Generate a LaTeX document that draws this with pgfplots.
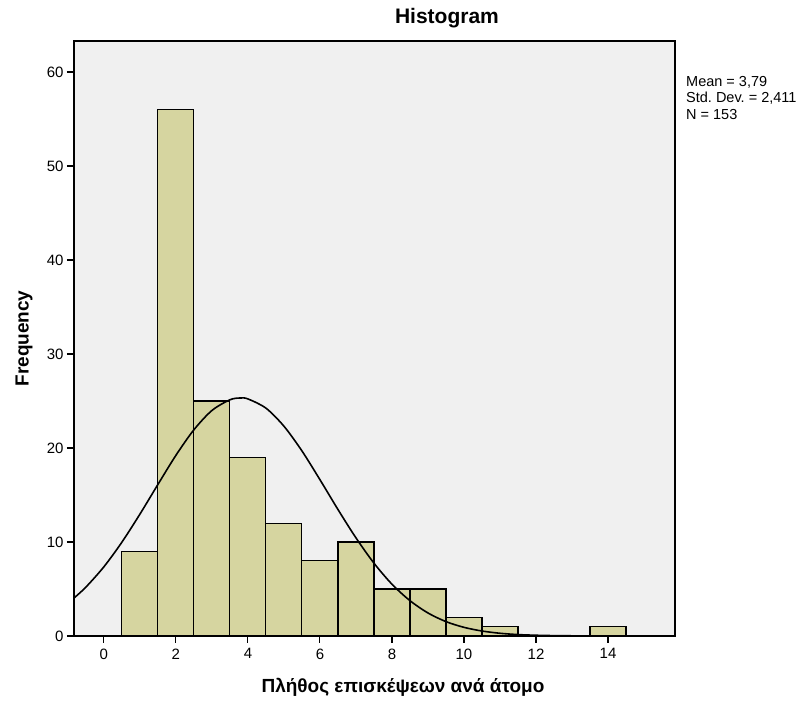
\documentclass[border=0pt]{standalone}
\usepackage{fontspec}
\setmainfont{Liberation Sans}
\usepackage{pgfplots}
\pgfplotsset{compat=1.18}

\definecolor{barcol}{RGB}{214,213,160}
\definecolor{bgcol}{RGB}{240,240,240}

\begin{document}
\frenchspacing
\begin{tikzpicture}
\begin{axis}[
  scale only axis,
  width=601pt, height=595pt,
  xmin=-0.83, xmax=15.86,
  ymin=0, ymax=63.3,
  xtick={0,2,...,14},
  ytick={0,10,...,60},
  tick pos=left,
  tick align=outside,
  major tick length=7pt,
  tick style={black, line width=1.1pt},
  axis line style={black, line width=1.2pt},
  axis background/.style={fill=bgcol},
  /pgf/number format/assume math mode=true,
  tick label style={font=\fontsize{15}{18}\selectfont},
  xticklabel style={yshift=-2pt},
  title={\textbf{Histogram}},
  title style={at={(axis description cs:0.6206,1.0185)}, anchor=base,
    font=\fontsize{21}{24}\selectfont},
  xlabel={\textbf{Πλήθος επισκέψεων ανά άτομο}},
  xlabel style={at={(axis description cs:0.5474,-0.0958)}, anchor=base,
    font=\fontsize{19}{22}\selectfont},
  ylabel={\textbf{Frequency}},
  ylabel style={at={(axis description cs:-0.0757,0.5)}, anchor=base,
    font=\fontsize{19}{22}\selectfont},
  clip=false,
]
% histogram bins (width 1, centred on integers)
\addplot[ybar, bar width=1, bar shift=0pt, fill=barcol, draw=black, line width=1.1pt]
  coordinates {(1,9) (2,56) (3,25) (4,19) (5,12) (6,8) (7,10) (8,5) (9,5)
               (10,2) (11,1) (14,1)};
% normal curve, mean 3.79, sd 2.411, N 153
\addplot[smooth, draw=black, line width=1.6pt, mark=none]
  coordinates {(-0.83,4.04) (-0.5,5.20) (0,7.36) (0.5,9.98) (1,12.96) (1.5,16.12)
    (2,19.22) (2.5,21.94) (3,23.99) (3.5,25.13) (3.79,25.32) (4,25.22)
    (4.5,24.24) (5,22.32) (5.5,19.69) (6,16.63) (6.5,13.46) (7,10.44)
    (7.5,7.75) (8,5.51) (8.5,3.76) (9,2.45) (9.5,1.53) (10,0.92)
    (10.5,0.53) (11,0.29) (11.5,0.15) (12,0.08) (12.5,0.04) (13,0.02)
    (14,0.003) (15,0.0004) (15.86,0)};
\node[anchor=north west, align=left, inner sep=0pt,
  font=\fontsize{14.5}{16.5}\selectfont]
  at (axis description cs:1.0183,0.9412)
  {Mean = 3,79\\Std. Dev. = 2,411\\N = 153};
\end{axis}
\path (current axis.south west) ++(-74pt,-65pt) rectangle ++(807pt,701pt);
\end{tikzpicture}
\end{document}
